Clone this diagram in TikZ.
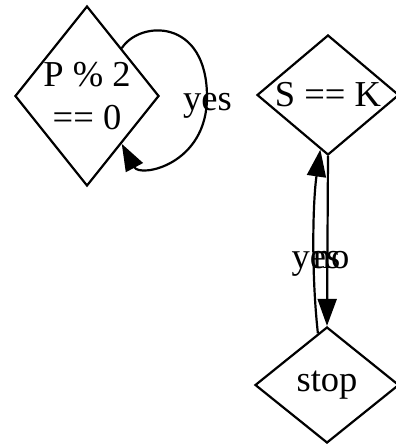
\documentclass[tikz,border=0pt]{standalone}
\usepackage{fontspec}
\setmainfont{Liberation Serif}
\usetikzlibrary{shapes.geometric,arrows.meta}
\begin{document}
\begin{tikzpicture}[x=1pt,y=1pt,
  dia/.style={draw,shape=diamond,line width=2.2pt,inner sep=0pt},
  lbl/.style={font=\fontsize{36.5}{43}\selectfont,align=center,inner sep=0pt},
  edge/.style={line width=2.2pt,-{Triangle[length=27pt,width=19pt]}}]
\useasboundingbox (0,0) rectangle (396,-447);
\node[dia,minimum width=144pt,minimum height=180pt,
  label={[lbl]center:P \% 2\\== 0}] (p) at (87,-96) {};
\node[dia,minimum width=142pt,minimum height=120pt,
  label={[lbl]center:S == K}] (sk) at (328,-95) {};
\node[dia,minimum width=144pt,minimum height=116pt,
  label={[lbl]center:stop}] (st) at (327,-385) {};
\draw[edge] (p.54) .. controls (140,-20) and (207,-18) .. (207,-97)
  .. controls (207,-165) and (140,-178) .. (p.-54);
\node[lbl,anchor=base west] (ly) at (183,-110) {yes};
\draw[edge] (sk.south) -- (st.north);
\draw[edge] (st.100) .. controls (311,-270) and (313,-200) .. (sk.-98);
\node[lbl,anchor=base] (ly2) at (316,-268) {yes};
\node[lbl,anchor=base] (ln) at (331,-268) {no};
\end{tikzpicture}
\end{document}
